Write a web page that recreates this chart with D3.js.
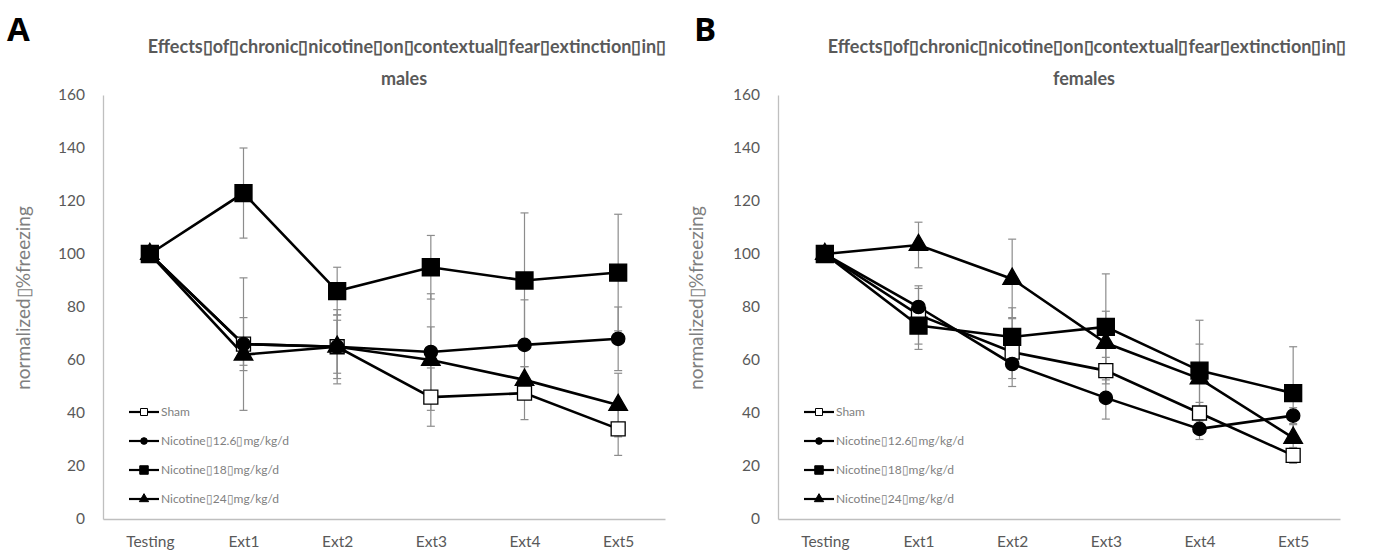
<!DOCTYPE html>
<html>
<head>
<meta charset="utf-8">
<script src="https://cdn.jsdelivr.net/npm/d3@7"></script>
<style>
  body { margin: 0; background: #fff; }
  svg text { font-family: Lato, "Open Sans", sans-serif; }
</style>
</head>
<body>
<div id="chart"></div>
<script>
// categories on the x axis
var categories = ["Testing", "Ext1", "Ext2", "Ext3", "Ext4", "Ext5"];
var yTicks = [0, 20, 40, 60, 80, 100, 120, 140, 160];
var seriesNames = ["Sham", "Nicotine\u25AF12.6\u25AFmg/kg/d", "Nicotine\u25AF18\u25AFmg/kg/d", "Nicotine\u25AF24\u25AFmg/kg/d"];

// males (panel A)
var maleSham = [100, 66, 65, 46, 47.5, 34];
var maleShamErr = [0, 25, 14, 11, 10, 10];
var maleNic126 = [100, 66, 65, 63, 65.7, 68];
var maleNic126Err = [0, 10, 12, 22, 17, 12];
var maleNic18 = [100, 123, 86, 95, 90, 93];
var maleNic18Err = [0, 17, 9, 12, 25.5, 22];
var maleNic24 = [100, 62, 65, 60, 52.5, 43];
var maleNic24Err = [0, 4, 10, 12.5, 5, 12];

// females (panel B)
var femaleSham = [100, 77, 63, 56, 40, 24];
var femaleShamErr = [0, 11, 13, 5, 4, 3];
var femaleNic126 = [100, 80, 58.5, 45.7, 34, 39];
var femaleNic126Err = [0, 7, 5.5, 8, 4, 3];
var femaleNic18 = [100, 73, 68.7, 72.5, 56, 47.5];
var femaleNic18Err = [0, 9, 11, 20, 19, 17.5];
var femaleNic24 = [100, 103.4, 90.6, 66.4, 53, 30.6];
var femaleNic24Err = [0, 8.6, 15, 12, 13, 5];

var width = 1373, height = 560;
var svg = d3.select("#chart").append("svg")
  .attr("width", width)
  .attr("height", height);

var gray = "#595959";

// marker shapes: open square, circle, filled square, triangle
var markers = [
  {type: d3.symbolSquare, size: 196, fill: "#fff"},
  {type: d3.symbolCircle, size: 140, fill: "#000"},
  {type: d3.symbolSquare, size: 289, fill: "#000"},
  {type: d3.symbolTriangle, size: 150, fill: "#000"}
];

function drawPanel(opts) {
  var x = d3.scalePoint().domain(categories).range([opts.left, opts.right]).padding(0.5);
  var y = d3.scaleLinear().domain([0, 160]).range([519, 95]);

  var g = svg.append("g");

  // panel letter
  g.append("text")
    .attr("x", opts.letterX).attr("y", 41)
    .style("font-family", "'Open Sans', sans-serif")
    .style("font-size", "33px").style("font-weight", "bold")
    .text(opts.letter);

  // title
  var cx = (opts.left + opts.right) / 2 + opts.titleShift;
  g.append("text")
    .attr("x", cx).attr("y", 53)
    .attr("text-anchor", "middle")
    .style("font-size", "18px").style("font-weight", "bold").attr("fill", gray)
    .text("Effects\u25AFof\u25AFchronic\u25AFnicotine\u25AFon\u25AFcontextual\u25AFfear\u25AFextinction\u25AFin\u25AF");
  g.append("text")
    .attr("x", cx - 3).attr("y", 85)
    .attr("text-anchor", "middle")
    .style("font-size", "18px").style("font-weight", "bold").attr("fill", gray)
    .text(opts.sex);

  // y axis
  var yAxis = d3.axisLeft(y).tickValues(yTicks).tickSize(0).tickPadding(18);
  var ya = g.append("g").attr("transform", "translate(" + opts.left + ",0)").call(yAxis);
  ya.select(".domain").attr("stroke", "#bfbfbf").attr("stroke-width", 1.3);
  ya.selectAll("text").style("font-size", "15.5px").attr("fill", gray)
    .style("font-family", "Lato, sans-serif");

  // x axis
  var xAxis = d3.axisBottom(x).tickSize(0).tickPadding(17);
  var xa = g.append("g").attr("transform", "translate(0," + y(0) + ")").call(xAxis);
  xa.select(".domain").attr("stroke", "#bfbfbf").attr("stroke-width", 1.3);
  xa.selectAll("text").style("font-size", "15.5px").attr("fill", gray)
    .style("font-family", "Lato, sans-serif");

  // y label
  g.append("text")
    .attr("transform", "translate(" + opts.ylabX + ",298) rotate(-90)")
    .attr("text-anchor", "middle")
    .style("font-size", "19px").attr("fill", "#7f7f7f")
    .text("normalized\u25AF%freezing");

  // error bars
  opts.series.forEach(function(s) {
    categories.forEach(function(c, i) {
      if (!s.err[i]) return;
      var xx = x(c), hi = y(s.values[i] + s.err[i]), lo = y(s.values[i] - s.err[i]);
      g.append("line").attr("x1", xx).attr("x2", xx).attr("y1", hi).attr("y2", lo)
        .attr("stroke", "#8c8c8c").attr("stroke-width", 1.2);
      [hi, lo].forEach(function(v) {
        g.append("line").attr("x1", xx - 4).attr("x2", xx + 4).attr("y1", v).attr("y2", v)
          .attr("stroke", "#8c8c8c").attr("stroke-width", 1.2);
      });
    });
  });

  var line = d3.line()
    .x(function(d, i) { return x(categories[i]); })
    .y(function(d) { return y(d); });

  opts.series.forEach(function(s) {
    g.append("path").datum(s.values)
      .attr("d", line)
      .attr("fill", "none").attr("stroke", "#000").attr("stroke-width", 2.6);
  });

  opts.series.forEach(function(s, k) {
    var m = markers[k];
    g.selectAll(null).data(s.values).enter().append("path")
      .attr("d", d3.symbol().type(m.type).size(m.size))
      .attr("transform", function(d, i) { return "translate(" + x(categories[i]) + "," + y(d) + ")"; })
      .attr("fill", m.fill).attr("stroke", "#000").attr("stroke-width", 1.3);
  });

  // legend
  var leg = g.append("g");
  seriesNames.forEach(function(name, k) {
    var ly = 412 + k * 29;
    var lx = opts.legX;
    leg.append("line").attr("x1", lx).attr("x2", lx + 30).attr("y1", ly).attr("y2", ly)
      .attr("stroke", "#000").attr("stroke-width", 2.2);
    var m = markers[k];
    leg.append("path")
      .attr("d", d3.symbol().type(m.type).size(m.size * 0.25))
      .attr("transform", "translate(" + (lx + 15) + "," + ly + ")")
      .attr("fill", m.fill).attr("stroke", "#000").attr("stroke-width", 1);
    leg.append("text").attr("x", lx + 32).attr("y", ly + 4)
      .style("font-size", "12px").attr("fill", "#7f7f7f")
      .text(name);
  });
}

drawPanel({
  letter: "A", letterX: 7, sex: "males", left: 103, right: 665, ylabX: 30, legX: 129,
  titleShift: 23,
  series: [
    {values: maleSham, err: maleShamErr},
    {values: maleNic126, err: maleNic126Err},
    {values: maleNic18, err: maleNic18Err},
    {values: maleNic24, err: maleNic24Err}
  ]
});

drawPanel({
  letter: "B", letterX: 694, sex: "females", left: 778, right: 1340, ylabX: 703, legX: 804,
  titleShift: 28,
  series: [
    {values: femaleSham, err: femaleShamErr},
    {values: femaleNic126, err: femaleNic126Err},
    {values: femaleNic18, err: femaleNic18Err},
    {values: femaleNic24, err: femaleNic24Err}
  ]
});
</script>
</body>
</html>
